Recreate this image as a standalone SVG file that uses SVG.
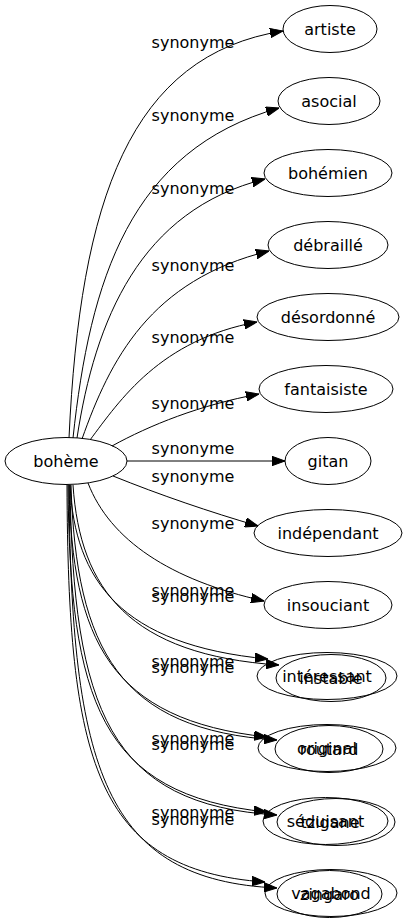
<svg xmlns="http://www.w3.org/2000/svg" width="413" height="923" viewBox="0 0 413 923">
<style>
.n ellipse{fill:none;stroke:#000;stroke-width:1}
text{font-family:"DejaVu Sans",sans-serif;font-size:16px;fill:#000;text-anchor:middle}
.e path{fill:none;stroke:#000;stroke-width:1;marker-end:url(#ah)}
</style>
<defs>
<marker id="ah" viewBox="0 0 13 10" markerWidth="13" markerHeight="10" refX="13" refY="5" orient="auto" markerUnits="userSpaceOnUse">
<path d="M0,0.3 L13,5 L0,9.7 z" fill="#000" stroke="#000"/>
</marker>
</defs>
<rect width="413" height="923" fill="#fff"/>
<g id="edges" class="e">
<path d="M69,438 C80,200 130,55 283,31"/>
<path d="M73,438 C90,280 130,150 279,108"/>
<path d="M77,438 C95,320 140,210 265,179"/>
<path d="M82,439 C110,360 150,280 269,251"/>
<path d="M90,440 C120,400 160,340 257,322"/>
<path d="M112,446 C150,425 200,405 259,394"/>
<path d="M127,461 L285,461"/>
<path d="M113,476 C160,495 210,512 258,526"/>
<path d="M88,483 C110,540 170,580 264,601"/>
<path d="M70,485 C75,580 120,645 268,659"/>
<path d="M73,485 C80,590 130,655 279,665"/>
<path d="M69,485 C72,640 110,720 267,737"/>
<path d="M71,485 C76,650 120,730 277,740"/>
<path d="M68,485 C70,700 100,795 267,812"/>
<path d="M70,485 C73,710 110,805 277,815"/>
<path d="M67,485 C68,760 95,870 265,882"/>
<path d="M69,485 C71,770 105,880 277,888"/>
<text x="193" y="48">synonyme</text>
<text x="193" y="121">synonyme</text>
<text x="193" y="194">synonyme</text>
<text x="193" y="271">synonyme</text>
<text x="193" y="343">synonyme</text>
<text x="193" y="409">synonyme</text>
<text x="193" y="454">synonyme</text>
<text x="193" y="482">synonyme</text>
<text x="193" y="529">synonyme</text>
<text x="193" y="596">synonyme</text>
<text x="193" y="602">synonyme</text>
<text x="193" y="667">synonyme</text>
<text x="193" y="673">synonyme</text>
<text x="193" y="744">synonyme</text>
<text x="193" y="750">synonyme</text>
<text x="193" y="818">synonyme</text>
<text x="193" y="825">synonyme</text>
</g>
<g id="n-boheme" class="n"><ellipse cx="66" cy="461" rx="61" ry="23.5"/><text x="66" y="467">bohème</text></g>
<g id="n-artiste" class="n"><ellipse cx="330" cy="29" rx="47" ry="23.5"/><text x="330" y="35">artiste</text></g>
<g id="n-asocial" class="n"><ellipse cx="329" cy="101" rx="51" ry="23.5"/><text x="329" y="107">asocial</text></g>
<g id="n-bohemien" class="n"><ellipse cx="328" cy="173" rx="64" ry="23.5"/><text x="328" y="179">bohémien</text></g>
<g id="n-debraille" class="n"><ellipse cx="328" cy="245" rx="60" ry="23.5"/><text x="328" y="251">débraillé</text></g>
<g id="n-desordonne" class="n"><ellipse cx="328" cy="317" rx="71" ry="23.5"/><text x="328" y="323">désordonné</text></g>
<g id="n-fantaisiste" class="n"><ellipse cx="326" cy="389" rx="67" ry="23.5"/><text x="326" y="395">fantaisiste</text></g>
<g id="n-gitan" class="n"><ellipse cx="328" cy="461" rx="43" ry="23.5"/><text x="328" y="467">gitan</text></g>
<g id="n-independant" class="n"><ellipse cx="328" cy="533" rx="74" ry="23.5"/><text x="328" y="539">indépendant</text></g>
<g id="n-insouciant" class="n"><ellipse cx="328" cy="605" rx="64" ry="23.5"/><text x="328" y="611">insouciant</text></g>
<g id="n-interessant" class="n"><ellipse cx="327" cy="676" rx="70" ry="23.5"/><text x="327" y="682">intéressant</text></g>
<g id="n-instable" class="n"><ellipse cx="331" cy="678" rx="55" ry="23.5"/><text x="331" y="684">instable</text></g>
<g id="n-original" class="n"><ellipse cx="327" cy="748" rx="69" ry="23.5"/><text x="327" y="754">original</text></g>
<g id="n-routard" class="n"><ellipse cx="329" cy="749" rx="54" ry="23.5"/><text x="329" y="755">routard</text></g>
<g id="n-seduisant" class="n"><ellipse cx="325.5" cy="821" rx="62.5" ry="23.5"/><text x="325.5" y="827">séduisant</text></g>
<g id="n-tzigane" class="n"><ellipse cx="336" cy="822" rx="59" ry="23.5"/><text x="330" y="828">tzigane</text></g>
<g id="n-vagabond" class="n"><ellipse cx="331" cy="893" rx="66" ry="23.5"/><text x="331" y="899">vagabond</text></g>
<g id="n-zingaro" class="n"><ellipse cx="329.5" cy="894" rx="52.5" ry="23.5"/><text x="329.5" y="900">zingaro</text></g>
</svg>
